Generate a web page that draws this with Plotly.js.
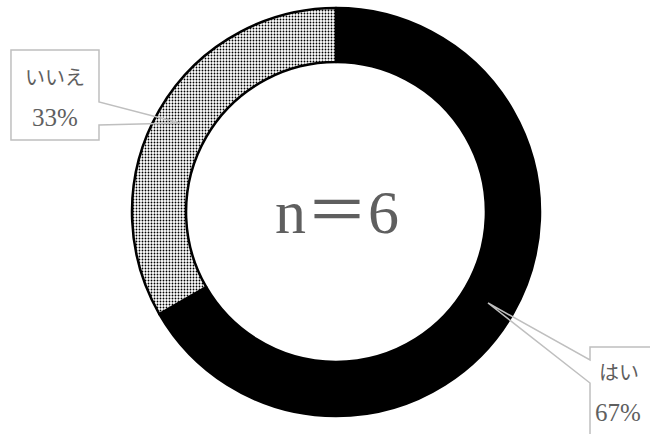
<!DOCTYPE html>
<html>
<head>
<meta charset="utf-8">
<script src="https://cdn.plot.ly/plotly-3.0.1.min.js"></script>
<style>html,body{margin:0;padding:0;background:#fff;}#chart{width:650px;height:434px;}</style>
</head>
<body>
<div id="chart"></div>
<script>
const labels = ["はい", "いいえ"];
const values = [4, 2];
const centerText = "n＝6";

const total = values.reduce((a, b) => a + b, 0);
const pct = values.map(v => Math.round(v / total * 100) + "%");

const W = 650, H = 434;
const px = x => x / W;
const py = y => 1 - y / H;
const pathOf = pts => pts.map((p, i) => (i ? "L" : "M") + px(p[0]).toFixed(4) + "," + py(p[1]).toFixed(4)).join(" ") + " Z";

const textFont = {family: "Liberation Serif, Noto Sans CJK JP, serif", color: "#5f5f5f"};

const trace = {
  type: "pie",
  labels: labels,
  values: values,
  sort: false,
  direction: "clockwise",
  rotation: 0,
  hole: 0.735,
  textinfo: "none",
  hoverinfo: "none",
  showlegend: false,
  domain: {x: [132 / W, 540 / W], y: [18 / H, 426 / H]},
  marker: {
    colors: ["#000000", "#ffffff"],
    line: {color: "#000000", width: 2.5},
    pattern: {
      shape: ["", "."],
      fgcolor: "#000000",
      bgcolor: ["#000000", "#ffffff"],
      size: 3,
      solidity: 0.3
    }
  }
};

const layout = {
  width: W, height: H,
  margin: {l: 0, r: 0, t: 0, b: 0},
  paper_bgcolor: "#ffffff",
  plot_bgcolor: "#ffffff",
  shapes: [
    {type: "path", xref: "paper", yref: "paper",
     path: pathOf([[11, 50], [99, 50], [99, 102], [180, 123], [99, 125], [99, 140], [11, 140]]),
     line: {color: "#bfbfbf", width: 1.5}, fillcolor: "rgba(255,255,255,0)"},
    {type: "path", xref: "paper", yref: "paper",
     path: pathOf([[590, 347], [655, 347], [655, 440], [590, 440], [590, 383], [488, 303], [590, 360]]),
     line: {color: "#bfbfbf", width: 1.5}, fillcolor: "rgba(255,255,255,0)"}
  ],
  annotations: [
    {xref: "paper", yref: "paper", x: px(337), y: py(212), text: centerText, showarrow: false,
     font: Object.assign({size: 62}, textFont), xanchor: "center", yanchor: "middle"},
    {xref: "paper", yref: "paper", x: px(55), y: py(78), text: labels[1], showarrow: false,
     font: Object.assign({size: 20}, textFont), xanchor: "center", yanchor: "middle"},
    {xref: "paper", yref: "paper", x: px(55), y: py(117), text: pct[1], showarrow: false,
     font: Object.assign({size: 25}, textFont), xanchor: "center", yanchor: "middle"},
    {xref: "paper", yref: "paper", x: px(619), y: py(373), text: labels[0], showarrow: false,
     font: Object.assign({size: 20}, textFont), xanchor: "center", yanchor: "middle"},
    {xref: "paper", yref: "paper", x: px(618), y: py(412), text: pct[0], showarrow: false,
     font: Object.assign({size: 25}, textFont), xanchor: "center", yanchor: "middle"}
  ]
};

Plotly.newPlot("chart", [trace], layout, {displayModeBar: false, staticPlot: true});
</script>
</body>
</html>
